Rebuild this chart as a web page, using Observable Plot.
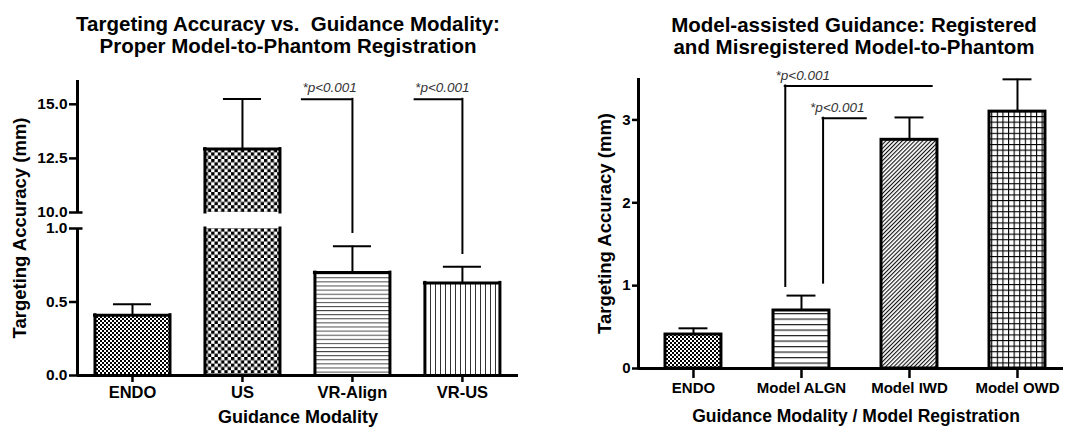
<!DOCTYPE html>
<html>
<head>
<meta charset="utf-8">
<script src="https://cdn.jsdelivr.net/npm/d3@7"></script>
<script src="https://cdn.jsdelivr.net/npm/@observablehq/plot@0.6"></script>
<style>
  html, body { margin: 0; padding: 0; background: #fff; }
  #page { position: relative; width: 1067px; height: 428px; overflow: hidden; font-family: "Liberation Sans", Arial, sans-serif; }
  .title { position: absolute; text-align: center; font-weight: bold; font-size: 20.5px; line-height: 22px; color: #000; white-space: nowrap; }
  #t1 { left: 0; width: 576px; top: 13px; }
  #t2 { left: 641px; width: 426px; top: 14px; }
  #p1 { position: absolute; left: 0; top: 60px; }
  #p2 { position: absolute; left: 560px; top: 60px; }
</style>
</head>
<body>
<div id="page">
  <div class="title" id="t1">Targeting Accuracy vs.&nbsp; Guidance Modality:<br>Proper Model-to-Phantom Registration</div>
  <div class="title" id="t2">Model-assisted Guidance: Registered<br>and Misregistered Model-to-Phantom</div>
  <div id="p1"></div>
  <div id="p2"></div>
</div>
<script>
// ---------------- DATA ----------------
const leftCategories = ["ENDO", "US", "VR-Align", "VR-US"];
const leftMeans = [0.41, 12.93, 0.70, 0.63];
const leftErrors = [0.075, 2.31, 0.18, 0.11];
const leftYTicks = [0.0, 0.5, 1.0, 10.0, 12.5, 15.0];
const leftYBreak = [1.0, 10.0];
const leftSig = [
  { label: "*p<0.001", xStart: 1.545, xEnd: 2, yTop: 15.23, yEnd: 0.973 },
  { label: "*p<0.001", xStart: 2.57, xEnd: 3, yTop: 15.23, yEnd: 0.83 }
];

const rightCategories = ["ENDO", "Model ALGN", "Model IWD", "Model OWD"];
const rightMeans = [0.41, 0.70, 2.76, 3.10];
const rightErrors = [0.075, 0.18, 0.27, 0.39];
const rightYTicks = [0, 1, 2, 3];
const rightSig = [
  { label: "*p<0.001", xLabel: 0.76, xLine: 0.85, xEnd: 2.21, yTop: 3.41, yEnd: 0.99 },
  { label: "*p<0.001", xLabel: 1.08, xLine: 1.20, xEnd: 1.60, yTop: 3.02, yEnd: 1.03 }
];

const xTitleLeft = "Guidance Modality";
const xTitleRight = "Guidance Modality / Model Registration";
const yTitle = "Targeting Accuracy (mm)";

// ---------------- STYLES ----------------
const leftFills = ["checkSmall", "checkLarge", "hLines", "vLines"];
const rightFills = ["checkSmall2", "hLinesR", "diag", "grid"];
const defsMarkup = `
<pattern id="checkSmall" patternUnits="userSpaceOnUse" width="4" height="4"><rect width="4" height="4" fill="#fff"/><rect width="2" height="2" fill="#000"/><rect x="2" y="2" width="2" height="2" fill="#000"/></pattern>
<pattern id="checkSmall2" patternUnits="userSpaceOnUse" width="4" height="4"><rect width="4" height="4" fill="#fff"/><rect width="2" height="2" fill="#000"/><rect x="2" y="2" width="2" height="2" fill="#000"/></pattern>
<pattern id="checkLarge" patternUnits="userSpaceOnUse" width="6.6" height="6.6"><rect width="6.6" height="6.6" fill="#fff"/><rect width="3.3" height="3.3" fill="#000"/><rect x="3.3" y="3.3" width="3.3" height="3.3" fill="#000"/></pattern>
<pattern id="hLines" patternUnits="userSpaceOnUse" width="4" height="4.1"><rect width="4" height="4.1" fill="#fff"/><rect width="4" height="1" fill="#444"/></pattern>
<pattern id="vLines" patternUnits="userSpaceOnUse" width="5" height="5"><rect width="5" height="5" fill="#fff"/><rect width="1" height="5" fill="#333"/></pattern>
<pattern id="hLinesR" patternUnits="userSpaceOnUse" width="5.5" height="5.5"><rect width="5.5" height="5.5" fill="#fff"/><rect width="5.5" height="1.2" fill="#222"/></pattern>
<pattern id="diag" patternUnits="userSpaceOnUse" width="2.9" height="2.9" patternTransform="rotate(-45)"><rect width="2.9" height="2.9" fill="#fff"/><rect width="2.9" height="1.1" fill="#111"/></pattern>
<pattern id="grid" patternUnits="userSpaceOnUse" width="5.6" height="5.6"><rect width="5.6" height="5.6" fill="#fff"/><rect width="5.6" height="1.1" fill="#000"/><rect width="1.1" height="5.6" fill="#000"/></pattern>`;

function addDefs(svg) {
  const defs = document.createElementNS("http://www.w3.org/2000/svg", "defs");
  defs.innerHTML = defsMarkup;
  svg.insertBefore(defs, svg.firstChild);
}

const baseStyle = { fontFamily: "'Liberation Sans', Arial, sans-serif", color: "#000", background: "transparent", overflow: "visible" };

// ---------------- LEFT PLOT ----------------
const hwL = 0.341, capL = 0.173;
const xDomL = [-0.5, 3.51];
const yDomL = [0, leftYBreak[0], leftYBreak[1], 16.1];
const yRangeL = [315, 168, 152, 20];

const leftBars = leftCategories.map((c, i) => ({ i, c, v: leftMeans[i], e: leftErrors[i], fill: leftFills[i] }));
const leftSegs = leftBars.flatMap(b => b.v > leftYBreak[1]
  ? [{ ...b, y1: 0, y2: leftYBreak[0], top: false }, { ...b, y1: leftYBreak[1], y2: b.v, top: true }]
  : [{ ...b, y1: 0, y2: b.v, top: true }]);
const leftAxisSegs = [{ y1: 0, y2: leftYBreak[0] }, { y1: leftYBreak[1], y2: yDomL[3] }];

const p1 = Plot.plot({
  width: 540, height: 368,
  marginLeft: 77, marginRight: 22, marginTop: 20, marginBottom: 53,
  x: { type: "linear", domain: xDomL },
  y: { type: "linear", domain: yDomL, range: yRangeL },
  color: { type: "identity" },
  style: baseStyle,
  marks: [
    Plot.rectY(leftSegs, { x1: d => d.i - hwL, x2: d => d.i + hwL, y1: "y1", y2: "y2", fill: d => `url(#${d.fill})` }),
    Plot.ruleX(leftSegs, { x: d => d.i - hwL, y1: "y1", y2: "y2", stroke: "#000", strokeWidth: 3, strokeLinecap: "square" }),
    Plot.ruleX(leftSegs, { x: d => d.i + hwL, y1: "y1", y2: "y2", stroke: "#000", strokeWidth: 3, strokeLinecap: "square" }),
    Plot.ruleY(leftSegs.filter(d => d.top), { y: "y2", x1: d => d.i - hwL, x2: d => d.i + hwL, stroke: "#000", strokeWidth: 3, strokeLinecap: "square" }),
    Plot.ruleX(leftBars, { x: "i", y1: "v", y2: d => d.v + d.e, stroke: "#000", strokeWidth: 2 }),
    Plot.ruleY(leftBars, { y: d => d.v + d.e, x1: d => d.i - capL, x2: d => d.i + capL, stroke: "#000", strokeWidth: 2 }),
    Plot.ruleX(leftAxisSegs, { x: () => xDomL[0], y1: "y1", y2: "y2", stroke: "#000", strokeWidth: 3 }),
    Plot.ruleY([0], { stroke: "#000", strokeWidth: 3 }),
    Plot.ruleY(leftYBreak, { y: d => d, x1: () => xDomL[0], x2: () => xDomL[0] + 0.05, stroke: "#000", strokeWidth: 2.5 }),
    Plot.axisY({ ticks: leftYTicks, tickFormat: d => d.toFixed(1), tickSize: 8, tickPadding: 2, strokeWidth: 2.5, fontSize: 15.5, fontWeight: "bold", label: null }),
    Plot.axisX({ ticks: leftCategories.map((_, i) => i), tickFormat: i => leftCategories[i], tickSize: 7, tickPadding: 4, strokeWidth: 2.5, fontSize: 16.5, fontWeight: "bold", label: null }),
    Plot.ruleY(leftSig, { y: "yTop", x1: "xStart", x2: "xEnd", stroke: "#000", strokeWidth: 2, strokeLinecap: "square" }),
    Plot.ruleX(leftSig, { x: "xEnd", y1: "yEnd", y2: "yTop", stroke: "#000", strokeWidth: 2, strokeLinecap: "square" }),
    Plot.text(leftSig, { x: "xStart", y: "yTop", text: "label", textAnchor: "start", lineAnchor: "bottom", dy: -7, fontStyle: "italic", fontSize: 13.5, fill: "#333" }),
    Plot.text([xTitleLeft], { text: d => d, frameAnchor: "bottom", textAnchor: "middle", lineAnchor: "middle", dy: 42, fontSize: 18, fontWeight: "bold" }),
    Plot.text([yTitle], { text: d => d, frameAnchor: "left", textAnchor: "middle", lineAnchor: "middle", rotate: -90, dx: -57, fontSize: 18.5, fontWeight: "bold" })
  ]
});
addDefs(p1);
document.getElementById("p1").appendChild(p1);

// ---------------- RIGHT PLOT ----------------
const hwR = 0.259, capR = 0.134;
const xDomR = [-0.509, 3.426];
const yDomR = [0, 3.5];
const rightBars = rightCategories.map((c, i) => ({ i, c, v: rightMeans[i], e: rightErrors[i], fill: rightFills[i] }));

const p2 = Plot.plot({
  width: 507, height: 368,
  marginLeft: 78, marginRight: 4, marginTop: 18, marginBottom: 60,
  x: { type: "linear", domain: xDomR },
  y: { type: "linear", domain: yDomR },
  color: { type: "identity" },
  style: baseStyle,
  marks: [
    Plot.rectY(rightBars, { x1: d => d.i - hwR, x2: d => d.i + hwR, y1: 0, y2: "v", fill: d => `url(#${d.fill})`, stroke: "#000", strokeWidth: 3 }),
    Plot.ruleX(rightBars, { x: "i", y1: "v", y2: d => d.v + d.e, stroke: "#000", strokeWidth: 2 }),
    Plot.ruleY(rightBars, { y: d => d.v + d.e, x1: d => d.i - capR, x2: d => d.i + capR, stroke: "#000", strokeWidth: 2 }),
    Plot.ruleX([yDomR], { x: () => xDomR[0], y1: d => d[0], y2: d => d[1], stroke: "#000", strokeWidth: 3 }),
    Plot.ruleY([0], { stroke: "#000", strokeWidth: 3 }),
    Plot.axisY({ ticks: rightYTicks, tickFormat: d => String(d), tickSize: 6, tickPadding: 2, strokeWidth: 2.5, fontSize: 15, fontWeight: "bold", label: null }),
    Plot.axisX({ ticks: rightCategories.map((_, i) => i), tickFormat: i => rightCategories[i], tickSize: 10, tickPadding: 4, strokeWidth: 2.5, fontSize: 15, fontWeight: "bold", label: null }),
    Plot.ruleY(rightSig, { y: "yTop", x1: "xLine", x2: "xEnd", stroke: "#000", strokeWidth: 2, strokeLinecap: "square" }),
    Plot.ruleX(rightSig, { x: "xLine", y1: "yEnd", y2: "yTop", stroke: "#000", strokeWidth: 2, strokeLinecap: "square" }),
    Plot.text(rightSig, { x: "xLabel", y: "yTop", text: "label", textAnchor: "start", lineAnchor: "bottom", dy: -6, fontStyle: "italic", fontSize: 13.5, fill: "#333" }),
    Plot.text([xTitleRight], { text: d => d, frameAnchor: "bottom", textAnchor: "middle", lineAnchor: "middle", dx: 5, dy: 48, fontSize: 17.5, fontWeight: "bold" }),
    Plot.text([yTitle], { text: d => d, frameAnchor: "left", textAnchor: "middle", lineAnchor: "middle", rotate: -90, dx: -33, fontSize: 18.5, fontWeight: "bold" })
  ]
});
addDefs(p2);
document.getElementById("p2").appendChild(p2);
</script>
</body>
</html>
